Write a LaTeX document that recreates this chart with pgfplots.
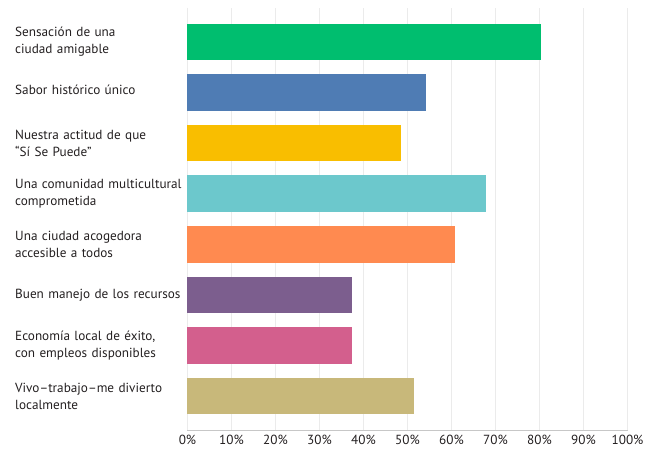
\documentclass[border=0pt]{standalone}
\usepackage{pgfplots}
\pgfplotsset{compat=1.18}
\usepackage{fontspec}
\setmainfont{PT Sans}
\definecolor{cgreen}{RGB}{0,190,111}
\definecolor{cblue}{RGB}{79,124,180}
\definecolor{cyellow}{RGB}{249,190,0}
\definecolor{cteal}{RGB}{108,200,204}
\definecolor{corange}{RGB}{255,138,80}
\definecolor{cpurple}{RGB}{124,94,142}
\definecolor{cpink}{RGB}{211,95,141}
\definecolor{ctan}{RGB}{200,184,122}
\definecolor{ctext}{RGB}{35,31,32}
\begin{document}
\begin{tikzpicture}
\begin{axis}[
  at={(0,0)}, anchor=south west,
  scale only axis,
  width=330pt, height=316.5pt,
  xbar, bar width=27.4pt, bar shift=0pt,
  xmin=0, xmax=100,
  ymin=-0.67, ymax=7.67, y dir=reverse,
  xtick={0,10,...,100},
  xticklabel={\pgfmathprintnumber{\tick}\%},
  /pgf/number format/assume math mode=true,
  ytick={0,...,7},
  yticklabels={{Sensación de una\\ciudad amigable},{\raisebox{3.5pt}{Sabor histórico único}},{Nuestra actitud de que\\“Sí Se Puede”},{Una comunidad multicultural\\comprometida},{Una ciudad acogedora\\accesible a todos},{Buen manejo de los recursos},{Economía local de éxito,\\con empleos disponibles},{Vivo–trabajo–me divierto\\localmente}},
  yticklabel style={anchor=east, align=left, text width=129pt, inner xsep=0pt, font=\fontsize{9.9}{12.75}\selectfont, text=ctext},
  xticklabel style={font=\fontsize{9.9}{12}\selectfont, text=ctext, yshift=-0.5pt},
  major tick length=0pt,
  xmajorgrids, grid style={color=black!8, line width=0.75pt},
  axis x line*=bottom, axis y line*=left,
  x axis line style={color=black!22, line width=0.75pt, -},
  y axis line style={draw=black!8, line width=0.75pt, -},
  clip=false,
]
\addplot[fill=cgreen, draw=none] coordinates {(80.4,0)};
\addplot[fill=cblue, draw=none] coordinates {(54.2,1)};
\addplot[fill=cyellow, draw=none] coordinates {(48.5,2)};
\addplot[fill=cteal, draw=none] coordinates {(67.9,3)};
\addplot[fill=corange, draw=none] coordinates {(60.9,4)};
\addplot[fill=cpurple, draw=none] coordinates {(37.4,5)};
\addplot[fill=cpink, draw=none] coordinates {(37.4,6)};
\addplot[fill=ctan, draw=none] coordinates {(51.4,7)};
\end{axis}
\path[use as bounding box] (-140.6pt,-14.25pt) rectangle (353.6pt,322.5pt);
\end{tikzpicture}
\end{document}
